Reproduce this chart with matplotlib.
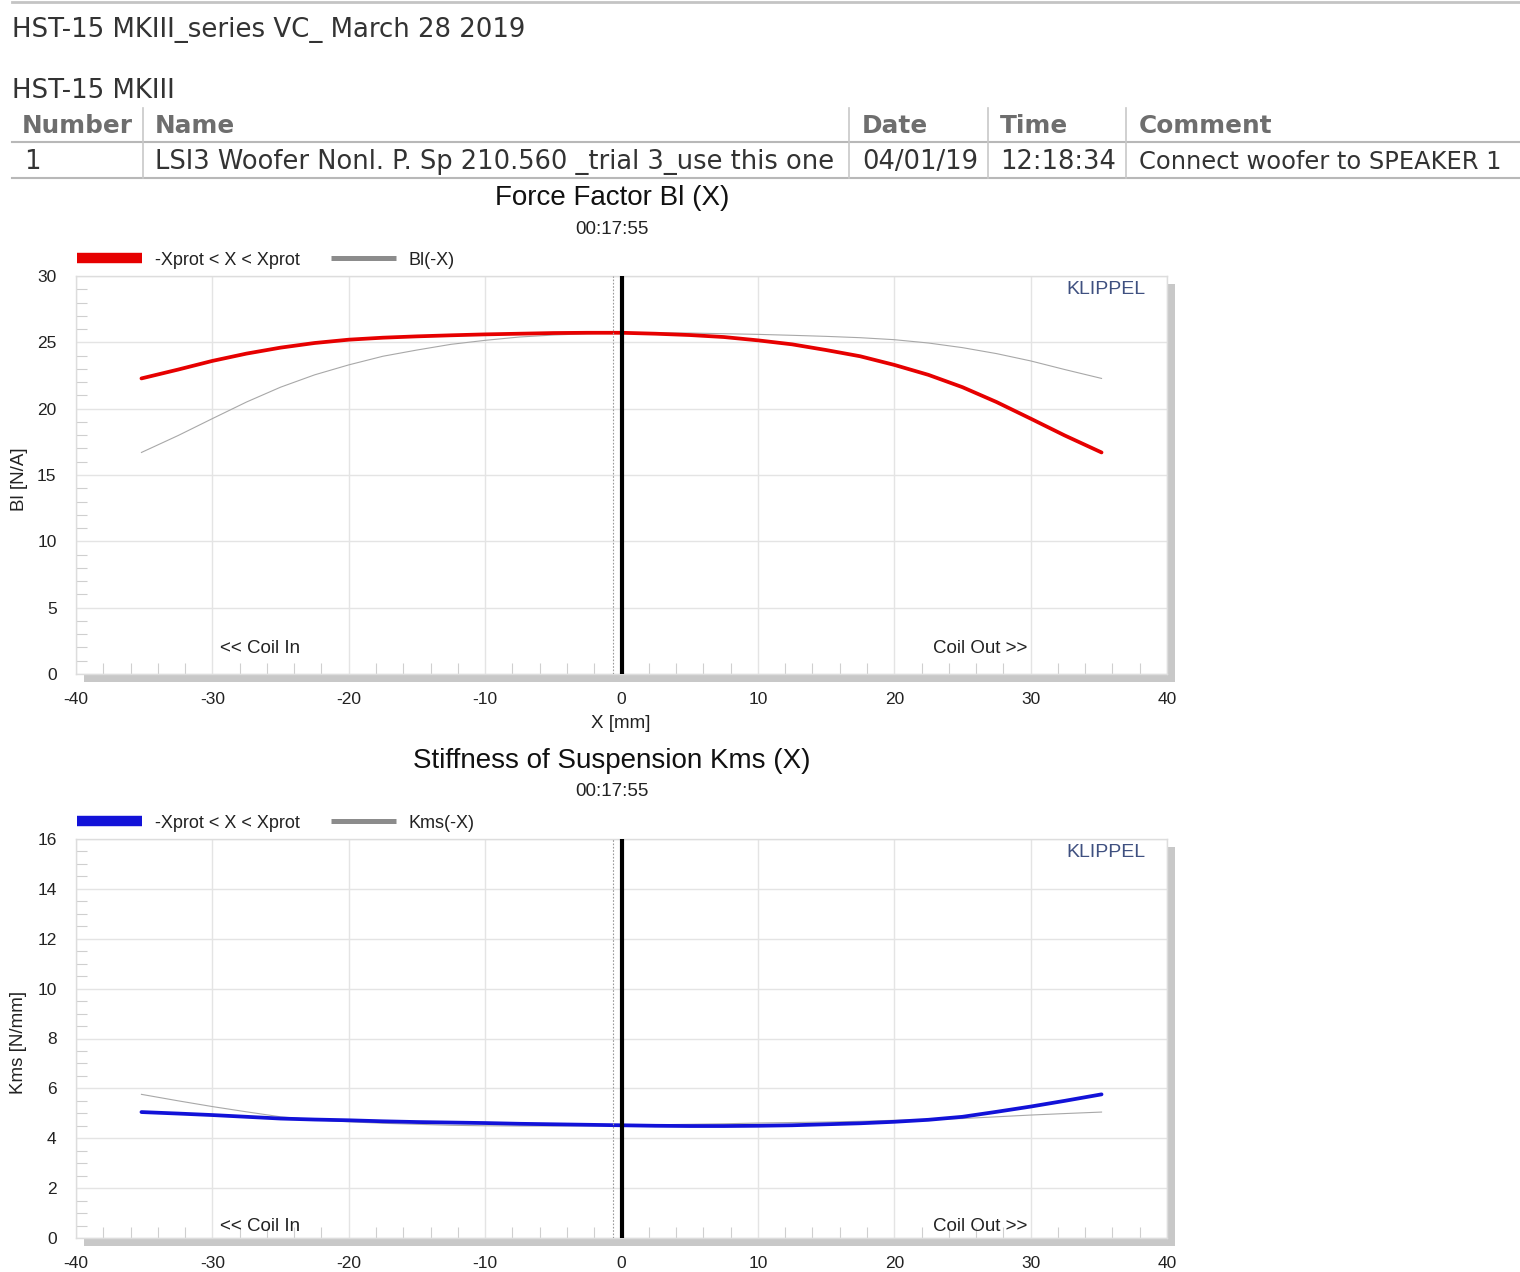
import numpy as np
import matplotlib
matplotlib.use('Agg')
import matplotlib.pyplot as plt
from matplotlib.lines import Line2D
from matplotlib.patches import Rectangle
from matplotlib.ticker import MultipleLocator

plt.rcParams['axes.unicode_minus'] = False

# displacement X [mm] where the curves were read
x_mm = [-35.2, -32.5, -30, -27.5, -25, -22.5, -20, -17.5, -15, -12.5, -10, -7.5, -5, -2.5, 0,
        2.5, 5, 7.5, 10, 12.5, 15, 17.5, 20, 22.5, 25, 27.5, 30, 32.5, 35.2]
# force factor Bl [N/A]
bl_vals = [22.28, 22.95, 23.6, 24.15, 24.6, 24.95, 25.2, 25.35, 25.45, 25.53, 25.6, 25.65, 25.7, 25.72, 25.72,
           25.65, 25.55, 25.4, 25.15, 24.85, 24.42, 23.95, 23.3, 22.55, 21.62, 20.5, 19.25, 17.98, 16.7]
# stiffness Kms [N/mm]
kms_vals = [5.05, 4.99, 4.93, 4.86, 4.79, 4.75, 4.72, 4.68, 4.65, 4.63, 4.61, 4.58, 4.56, 4.54, 4.52,
            4.50, 4.49, 4.49, 4.50, 4.52, 4.56, 4.60, 4.66, 4.74, 4.86, 5.06, 5.27, 5.5, 5.76]

header_cols = ['Number', 'Name', 'Date', 'Time', 'Comment']
row_vals = ['1', 'LSI3 Woofer Nonl. P. Sp 210.560 _trial 3_use this one', '04/01/19', '12:18:34',
            'Connect woofer to SPEAKER 1']
x_ticks = [-40, -30, -20, -10, 0, 10, 20, 30, 40]

W, H = 1520, 1272
fig = plt.figure(figsize=(W / 100, H / 100), dpi=100)
fig.patch.set_facecolor('white')

SANS = 'Liberation Sans'
VERD = 'DejaVu Sans'


def fx(px):
    return px / W


def fy(py):
    return 1 - py / H


def hline(x0, x1, y, color, lw):
    fig.add_artist(Line2D([fx(x0), fx(x1)], [fy(y), fy(y)], color=color, lw=lw, transform=fig.transFigure))


def vline(x, y0, y1, color, lw):
    fig.add_artist(Line2D([fx(x), fx(x)], [fy(y0), fy(y1)], color=color, lw=lw, transform=fig.transFigure))


# page header
hline(12, 1520, 1.5, '#c4c4c4', 2)
fig.text(fx(12), fy(30), 'HST-15 MKIII_series VC_ March 28 2019', family=VERD, fontsize=18.7,
         color='#333333', va='center', ha='left')
fig.text(fx(12), fy(91), 'HST-15 MKIII', family=VERD, fontsize=18.7, color='#333333', va='center')

col_x = [22, 155, 862, 1000, 1139]
row_x = [24, 155, 862, 1000, 1139]
row_sizes = [18.5, 18.5, 18.5, 18.5, 17.4]
for cx, t in zip(col_x, header_cols):
    fig.text(fx(cx), fy(126), t, family=VERD, fontsize=17.8, fontweight='bold', color='#6e6e6e', va='center')
for cx, t, fs in zip(row_x, row_vals, row_sizes):
    fig.text(fx(cx), fy(162), t, family=VERD, fontsize=fs, color='#333333', va='center')
hline(12, 1520, 142, '#b8b8b8', 1.5)
hline(12, 1520, 178, '#b8b8b8', 1.5)
for sx in [143, 849, 988, 1126]:
    vline(sx, 108, 178, '#c8c8c8', 1.2)


def make_panel(top_px, bottom_px, y_max, y_major, y_minor, y_vals, color, ylabel, leg_label,
               title, title_y, show_xlabel):
    left_px, right_px = 76, 1167
    ax = fig.add_axes([fx(left_px), fy(bottom_px), fx(right_px - left_px), (bottom_px - top_px) / H])
    # grey drop shadow behind the plot area
    fig.add_artist(Rectangle((fx(left_px + 8), fy(bottom_px + 8)), fx(right_px - left_px),
                             (bottom_px - top_px) / H, transform=fig.transFigure,
                             facecolor='#c8c8c8', edgecolor='none', zorder=-1))

    ax.plot(np.negative(x_mm), y_vals, color='#a8a8a8', lw=0.8, zorder=3)
    ax.plot(x_mm, y_vals, color=color, lw=2.7, zorder=4, solid_capstyle='round')
    ax.axvline(-0.65, color='#9a9a9a', lw=0.8, ls=(0, (1.5, 1.5)), zorder=4)
    ax.axvline(0, color='black', lw=3, zorder=5)

    ax.set_xlim(-40, 40)
    ax.set_ylim(0, y_max)
    ax.set_xticks(x_ticks)
    ax.xaxis.set_minor_locator(MultipleLocator(2))
    ax.yaxis.set_major_locator(MultipleLocator(y_major))
    ax.yaxis.set_minor_locator(MultipleLocator(y_minor))
    ax.grid(True, which='major', color='#e4e4e4', lw=1)
    ax.set_axisbelow(True)
    ax.tick_params(which='major', length=0, labelsize=12.5, labelcolor='#222222')
    ax.tick_params(axis='x', which='major', pad=13)
    ax.tick_params(axis='y', which='major', pad=14)
    ax.tick_params(which='minor', direction='in', length=8, width=0.8, color='#cfcfcf')
    for lab in ax.get_xticklabels() + ax.get_yticklabels():
        lab.set_family(SANS)
    for s in ax.spines.values():
        s.set_color('#dddddd')
        s.set_linewidth(1)

    ax.text(0.98, 0.967, 'KLIPPEL', transform=ax.transAxes, ha='right', va='center',
            family=SANS, fontsize=14, color='#3f5080')
    coil_y = 0.065 if y_max == 30 else 0.03
    ax.text(-26.5, coil_y, '<< Coil In', transform=ax.get_xaxis_transform(), ha='center',
            va='center', family=SANS, fontsize=13.5, color='#222222')
    ax.text(26.3, coil_y, 'Coil Out >>', transform=ax.get_xaxis_transform(), ha='center',
            va='center', family=SANS, fontsize=13.5, color='#222222')

    handles = [Line2D([], [], color=color, lw=7.5, solid_capstyle='butt'),
               Line2D([], [], color='#8c8c8c', lw=3.6, solid_capstyle='butt')]
    leg = ax.legend(handles, ['-Xprot < X < Xprot', leg_label], loc='lower left',
                    bbox_to_anchor=(-0.0055, 1.0), ncol=2, frameon=False, handlelength=3.6,
                    handletextpad=0.7, columnspacing=1.75, borderpad=0, borderaxespad=0.4,
                    prop={'family': SANS, 'size': 13})
    for t in leg.get_texts():
        t.set_color('#222222')

    fig.text(fx(612), fy(title_y), title, family=SANS, fontsize=20, ha='center', va='center',
             color='#111111')
    fig.text(fx(612), fy(title_y + 31), '00:17:55', family=SANS, fontsize=13.5, ha='center',
             va='center', color='#222222')
    fig.text(fx(19), fy((top_px + bottom_px) / 2 + 4), ylabel, family=SANS, fontsize=13.5,
             rotation=90, ha='center', va='center', color='#222222')
    if show_xlabel:
        fig.text(fx(621), fy(724), 'X [mm]', family=SANS, fontsize=13.5, ha='center', va='center',
                 color='#222222')
    return ax


make_panel(276, 674, 30, 5, 1, bl_vals, '#e60000', 'Bl [N/A]', 'Bl(-X)',
           'Force Factor Bl (X)', 198, True)
make_panel(839, 1238, 16, 2, 0.5, kms_vals, '#1212d8', 'Kms [N/mm]', 'Kms(-X)',
           'Stiffness of Suspension Kms (X)', 761, False)

fig.savefig('out.png', dpi=100, facecolor='white')
